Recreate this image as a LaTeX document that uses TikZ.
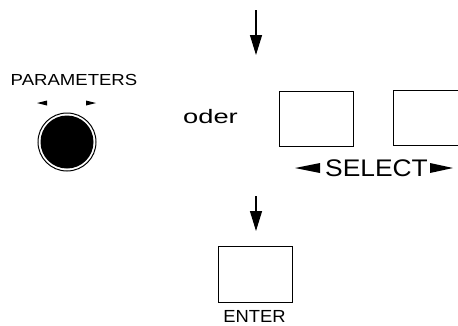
\documentclass[tikz,border=0pt]{standalone}
\usepackage{fontspec}
\setmainfont{Liberation Sans}
\usetikzlibrary{arrows.meta}
\newcommand{\breit}[3]{\fontsize{#1}{#1}\selectfont\scalebox{#2}[1]{#3}}

\begin{document}
\begin{tikzpicture}[x=1pt, y=-1pt,
    taste/.style={draw, line width=1pt, minimum width=74pt, minimum height=55pt, inner sep=0pt},
    pfeil/.style={line width=1.3pt, -{Triangle[length=20pt, width=12pt]}},
    knopf/.style={circle, draw, line width=1pt, minimum size=58pt, inner sep=0pt},
    beschr/.style={inner sep=0pt, anchor=base}]
        \clip (0,0) rectangle (458,325);
        \coordinate (p1a) at (256,10);
        \coordinate (p1b) at (256,55);
        \coordinate (p2a) at (256,196);
        \coordinate (p2b) at (256,231);
        \draw[pfeil] (p1a) -- (p1b);
        \draw[pfeil] (p2a) -- (p2b);
        \node[beschr] (param) at (74,85.7) {\breit{16}{1.16}{PARAMETERS}};
        \fill (37,103) -- (47,100.5) -- (47,105.5) -- cycle;
        \fill (96,103) -- (86,100.5) -- (86,105.5) -- cycle;
        \node[knopf] (knob) at (67,142) {};
        \fill (knob.center) circle[radius=26.5];
        \node[beschr] (oder) at (210.5,123) {\breit{19.5}{1.4}{oder}};
        \node[taste] (sel1) at (316,118.5) {};
        \node[taste] (sel2) at (430,118) {};
        \node[beschr] (select) at (376.5,176.5) {\breit{24}{1.1}{SELECT}};
        \fill (295,168) -- (320,163) -- (320,173) -- cycle;
        \fill (453,168) -- (430,163) -- (430,173) -- cycle;
        \node[taste, minimum height=56pt] (enter) at (255,274) {};
        \node[beschr] (entertxt) at (254.5,322) {\breit{17.5}{1.05}{ENTER}};
\end{tikzpicture}
\end{document}
